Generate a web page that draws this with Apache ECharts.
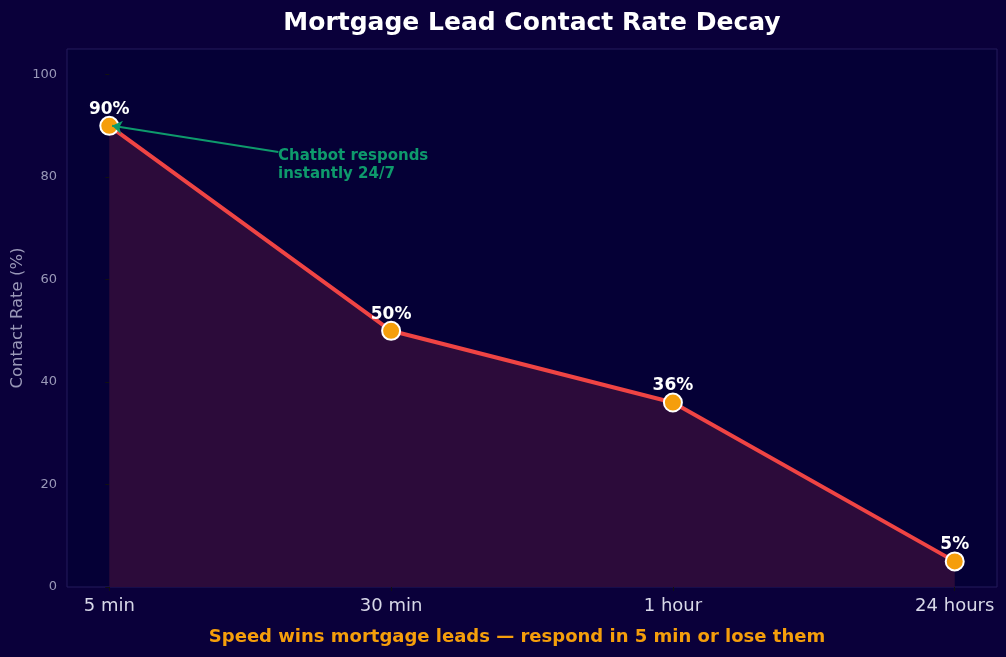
<!DOCTYPE html>
<html><head><meta charset="utf-8">
<script src="https://cdn.jsdelivr.net/npm/echarts@6/dist/echarts.min.js"></script>
<style>html,body{margin:0;padding:0;background:#0a003a;}#c{width:1006px;height:657px;}</style>
</head><body><div id="c"></div>
<script>
const categories = ['5 min', '30 min', '1 hour', '24 hours'];
const contactRate = [90, 50, 36, 5];
const yTicks = [0, 20, 40, 60, 80, 100];
const xTicks = [0, 1, 2, 3];
const annotationText = 'Chatbot responds\ninstantly 24/7';
const annotationFrom = [0.6, 84.9];
const annotationTo = [0.01, 90];

const F = 'DejaVu Sans';
const chart = echarts.init(document.getElementById('c'));
chart.setOption({
  backgroundColor: '#0a003a',
  animation: false,
  title: {
    text: 'Mortgage Lead Contact Rate Decay',
    left: 527, top: 6, textAlign: 'center',
    textStyle: {color: '#ffffff', fontFamily: F, fontWeight: 'bold', fontSize: 25}
  },
  grid: {left: 67, right: 9, top: 49, bottom: 70, outerBoundsMode: 'none', containLabel: false, show: true, backgroundColor: '#050036', borderColor: '#241a5c', borderWidth: 1},
  xAxis: {
    type: 'value', min: -0.15, max: 3.15,
    name: 'Speed wins mortgage leads — respond in 5 min or lose them',
    nameLocation: 'middle', nameGap: 41,
    nameTextStyle: {color: '#f59e0b', fontFamily: F, fontWeight: 'bold', fontSize: 18, padding: [0, 30, 0, 0]},
    axisLine: {show: false},
    axisTick: {show: true, customValues: xTicks, length: 4, lineStyle: {color: '#111'}},
    axisLabel: {customValues: xTicks, formatter: v => categories[Math.round(v)], color: '#d8d8e8', fontFamily: F, fontSize: 18, margin: 10},
    splitLine: {show: false}
  },
  yAxis: {
    type: 'value', min: 0, max: 105,
    name: 'Contact Rate (%)', nameLocation: 'middle', nameGap: 41, nameRotate: 90, nameMoveOverlap: false,
    nameTextStyle: {color: '#9a98b8', fontFamily: F, fontSize: 16.5},
    axisLine: {show: false},
    axisTick: {show: true, customValues: yTicks, length: 4, lineStyle: {color: '#111'}},
    axisLabel: {customValues: yTicks, color: '#9a98b8', fontFamily: F, fontSize: 13, margin: 10},
    splitLine: {show: false}
  },
  graphic: [{
    type: 'text', left: 278, top: 147,
    style: {text: annotationText, fill: '#0e9a6c', font: 'bold 15px "DejaVu Sans"', lineHeight: 18}
  }],
  series: [{
    type: 'line',
    data: contactRate.map((v, i) => [i, v]),
    lineStyle: {color: '#ef4444', width: 4},
    itemStyle: {color: '#f59e0b', borderColor: '#ffffff', borderWidth: 2},
    symbol: 'circle', symbolSize: 18,
    areaStyle: {color: '#2c0b3a', opacity: 1},
    label: {show: true, position: 'top', distance: -2, formatter: p => p.value[1] + '%', color: '#ffffff', fontFamily: F, fontWeight: 'bold', fontSize: 17},
    markLine: {
      silent: true, animation: false,
      lineStyle: {color: '#0e9a6c', width: 2, type: 'solid'},
      label: {show: false},
      symbolSize: [10, 10],
      data: [[{coord: annotationFrom, symbol: 'none'}, {coord: annotationTo, symbol: 'arrow'}]]
    },
    z: 3
  }]
});
</script></body></html>
